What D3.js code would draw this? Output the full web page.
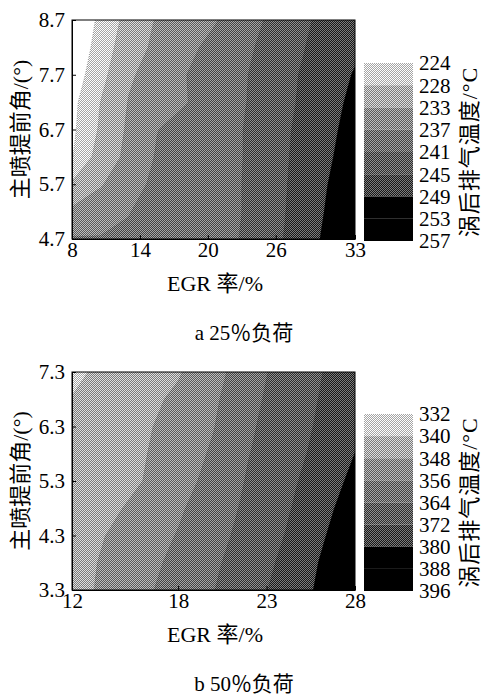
<!DOCTYPE html>
<html>
<head>
<meta charset="utf-8">
<script src="https://cdn.jsdelivr.net/npm/d3@7"></script>
<style>
  body { margin: 0; background: #fff; }
  text { font-family: 'Liberation Serif', 'Noto Sans CJK SC', serif; fill: #000; }
</style>
</head>
<body>
<svg id="chart" width="481" height="698"></svg>
<script>
/** panel a: 25% load, grid of exhaust temperature */
const egrA = [8, 10.5, 13, 15.5, 18, 20.5, 23, 25.5, 28, 30.5, 33];
const angleA = [8.7, 8.2, 7.7, 7.2, 6.7, 6.2, 5.7, 5.2, 4.7];
const tempA = [
  [220.3, 224.8, 229.4, 233.4, 235.0, 236.6, 239.0, 241.6, 244.0, 246.1, 248.0],
  [221.0, 225.5, 230.6, 234.1, 236.0, 238.0, 240.0, 242.2, 244.5, 246.5, 248.3],
  [221.9, 226.4, 232.4, 234.8, 236.9, 238.7, 240.5, 242.7, 245.0, 247.1, 249.3],
  [222.9, 228.0, 233.2, 235.0, 236.8, 238.7, 240.6, 242.9, 245.2, 247.5, 250.0],
  [223.2, 228.5, 233.8, 236.9, 238.3, 239.6, 240.9, 243.2, 245.6, 248.0, 250.5],
  [223.8, 229.8, 234.3, 237.3, 238.5, 239.7, 240.9, 243.3, 245.8, 248.4, 251.0],
  [228.5, 232.6, 235.8, 237.7, 238.8, 239.9, 241.0, 243.4, 246.0, 248.9, 251.8],
  [234.0, 235.5, 236.9, 238.0, 239.0, 240.0, 241.0, 243.5, 246.2, 249.3, 252.4],
  [237.3, 237.2, 237.4, 238.3, 239.2, 240.1, 241.1, 243.7, 246.5, 249.8, 252.7]
];
const levelsA = [224, 228, 233, 237, 241, 245, 249, 253, 257];
const xTicksA = [8, 14, 20, 26, 33];
const yTicksA = [4.7, 5.7, 6.7, 7.7, 8.7];

/** panel b: 50% load */
const egrB = [12, 14, 16, 18, 20, 22, 24, 26, 28];
const angleB = [7.3, 6.8, 6.3, 5.8, 5.3, 4.8, 4.3, 3.8, 3.3];
const tempB = [
  [338.5, 341.8, 344.5, 347.3, 353.2, 360.8, 366.8, 371.5, 376.9],
  [340.2, 342.9, 345.8, 349.4, 354.7, 361.9, 367.4, 372.2, 377.7],
  [341.0, 343.9, 346.8, 350.9, 355.7, 362.9, 368.0, 372.9, 378.4],
  [341.5, 344.4, 347.4, 351.9, 357.0, 363.8, 368.7, 373.9, 380.1],
  [342.0, 345.0, 348.0, 352.9, 358.5, 364.8, 369.7, 375.5, 382.0],
  [343.0, 346.3, 350.3, 354.9, 360.2, 365.6, 370.7, 377.2, 384.0],
  [344.5, 348.2, 352.3, 356.4, 361.4, 366.7, 372.0, 378.8, 385.5],
  [345.0, 349.2, 353.5, 357.9, 362.8, 367.9, 373.4, 380.3, 387.2],
  [345.5, 349.5, 354.5, 359.2, 363.8, 368.9, 374.7, 381.2, 388.0]
];
const levelsB = [332, 340, 348, 356, 364, 372, 380, 388, 396];
const xTicksB = [12, 18, 23, 28];
const yTicksB = [3.3, 4.3, 5.3, 6.3, 7.3];

/** grey level of each band, light to dark */
const shades = ['#d2d2d2', '#adadad', '#8c8c8c', '#747474', '#5f5f5f', '#4a4a4a', '#000000', '#000000'];

const svg = d3.select('#chart');
const defs = svg.append('defs');

/** dithered fills, a 2x2 checker round each grey */
shades.forEach(function (c, i) {
  let g = d3.rgb(c).r;
  if (g === 0) return;
  let d = Math.min(50, g, 255 - g);
  let lo = d3.rgb(g - d, g - d, g - d).toString(), hi = d3.rgb(g + d, g + d, g + d).toString();
  let p = defs.append('pattern').attr('id', 'dot' + i)
    .attr('width', 2).attr('height', 2).attr('patternUnits', 'userSpaceOnUse');
  p.append('rect').attr('width', 2).attr('height', 2).attr('fill', lo);
  p.append('rect').attr('width', 1).attr('height', 1).attr('fill', hi);
  p.append('rect').attr('x', 1).attr('y', 1).attr('width', 1).attr('height', 1).attr('fill', hi);
});
function bandFill(i) { return d3.rgb(shades[i]).r === 0 ? '#000' : 'url(#dot' + i + ')'; }

const left = 72, right = 355;
const serif = "'Liberation Serif', 'Noto Sans CJK SC', serif";

function drawPanel(p) {
  let x = d3.scaleLinear().domain([p.egr[0], p.egr[p.egr.length - 1]]).range([left, right]);
  let y = d3.scaleLinear().domain([p.angle[p.angle.length - 1], p.angle[0]]).range([p.bottom, p.top]);

  defs.append('clipPath').attr('id', 'clip' + p.id)
    .append('rect').attr('x', left).attr('y', p.top).attr('width', right - left).attr('height', p.bottom - p.top);

  /** contour bands */
  let nx = p.egr.length, ny = p.angle.length;
  let dx = p.egr[1] - p.egr[0], dy = p.angle[0] - p.angle[1];
  let bands = d3.contours().size([nx, ny]).thresholds(p.levels.slice(0, -1))(p.temp.flat());
  let path = d3.geoPath(d3.geoTransform({
    point: function (gx, gy) {
      this.stream.point(x(p.egr[0] + (gx - 0.5) * dx), y(p.angle[0] - (gy - 0.5) * dy));
    }
  }));

  let plot = svg.append('g').attr('clip-path', 'url(#clip' + p.id + ')');
  plot.append('rect').attr('x', left).attr('y', p.top)
    .attr('width', right - left).attr('height', p.bottom - p.top).attr('fill', '#fff');
  plot.selectAll('.band').data(bands).join('path')
    .attr('class', 'band')
    .attr('d', path)
    .attr('fill', function (d, i) { return bandFill(i); });
  plot.selectAll('.iso').data(bands).join('path')
    .attr('class', 'iso')
    .attr('d', path)
    .attr('fill', 'none')
    .attr('stroke', '#000')
    .attr('stroke-opacity', 0.4)
    .attr('stroke-width', 0.7)
    .attr('stroke-dasharray', '1,1.5');

  /** axes with inward ticks */
  let xAxis = d3.axisBottom(x).tickValues(p.xTicks).tickSizeInner(-4).tickSizeOuter(0).tickPadding(3).tickFormat(d3.format('d'));
  let yAxis = d3.axisLeft(y).tickValues(p.yTicks).tickSizeInner(-4).tickSizeOuter(0).tickPadding(7).tickFormat(d3.format('.1f'));
  svg.append('g').attr('transform', 'translate(0,' + p.bottom + ')').call(xAxis)
    .attr('font-size', 21).attr('font-family', serif);
  svg.append('g').attr('transform', 'translate(' + left + ',0)').call(yAxis)
    .attr('font-size', 21).attr('font-family', serif);
  svg.append('rect').attr('x', left).attr('y', p.top)
    .attr('width', right - left).attr('height', p.bottom - p.top)
    .attr('fill', 'none').attr('stroke', '#000').attr('stroke-width', 1);

  /** axis titles and caption */
  svg.append('text')
    .attr('transform', 'translate(20,' + (p.top + p.bottom) / 2 + ') rotate(-90)')
    .attr('text-anchor', 'middle').attr('dominant-baseline', 'central')
    .style('font-size', '22px')
    .text('主喷提前角/(°)');
  svg.append('text')
    .attr('x', 215).attr('y', p.bottom + 52)
    .attr('text-anchor', 'middle')
    .style('font-size', '22px')
    .text('EGR 率/%');
  svg.append('text')
    .attr('x', 244).attr('y', p.bottom + 101)
    .attr('text-anchor', 'middle')
    .style('font-size', '21px')
    .text(p.caption);

  /** colour bar */
  let cb = d3.scalePoint().domain(p.levels).range([p.cbTop, p.cbBottom]);
  svg.append('g').selectAll('rect').data(p.levels.slice(0, -1)).join('rect')
    .attr('x', 364).attr('width', 49)
    .attr('y', function (d) { return cb(d); })
    .attr('height', function (d, i) { return cb(p.levels[i + 1]) - cb(d); })
    .attr('fill', function (d, i) { return bandFill(i); });
  svg.append('g').selectAll('text').data(p.levels).join('text')
    .attr('x', 419)
    .attr('y', function (d) { return cb(d); })
    .attr('dy', '0.35em')
    .style('font-size', '21px')
    .text(function (d) { return d; });
  svg.append('text')
    .attr('transform', 'translate(469,' + (p.cbTop + p.cbBottom) / 2 + ') rotate(-90)')
    .attr('text-anchor', 'middle').attr('dominant-baseline', 'central')
    .style('font-size', '22px')
    .style('letter-spacing', '1px')
    .text('涡后排气温度/°C');
}

drawPanel({ id: 'a', egr: egrA, angle: angleA, temp: tempA, levels: levelsA,
  xTicks: xTicksA, yTicks: yTicksA, top: 20, bottom: 239, cbTop: 63, cbBottom: 241, caption: 'a 25％负荷' });
drawPanel({ id: 'b', egr: egrB, angle: angleB, temp: tempB, levels: levelsB,
  xTicks: xTicksB, yTicks: yTicksB, top: 372, bottom: 590, cbTop: 414, cbBottom: 591, caption: 'b 50％负荷' });
</script>
</body>
</html>
